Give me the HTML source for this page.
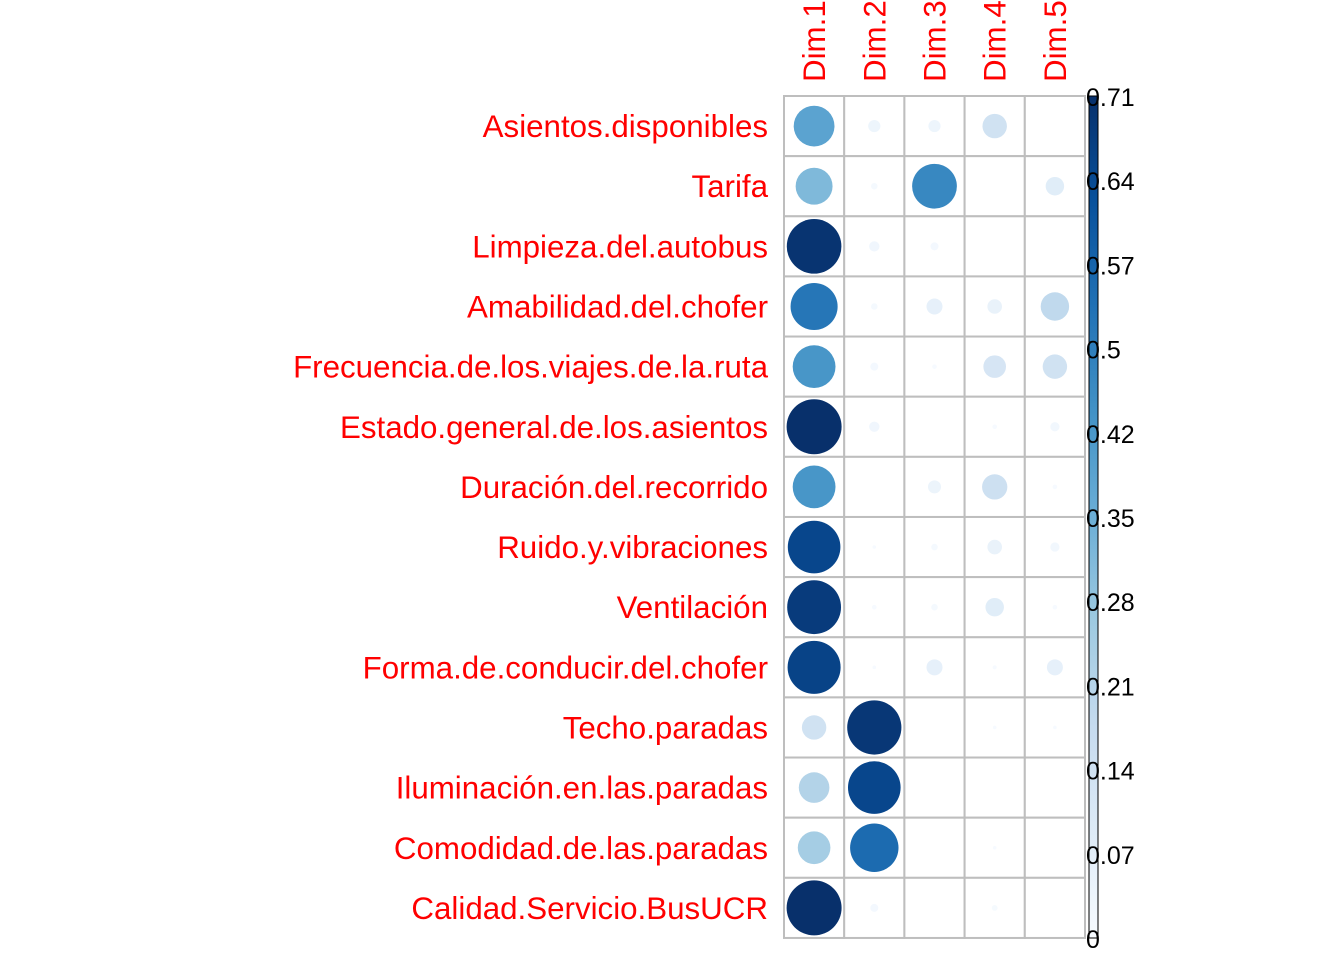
<!DOCTYPE html>
<html><head><meta charset="utf-8"><style>
body{margin:0;background:#fff;}
svg text{font-family:"Liberation Sans",sans-serif;}
</style></head><body>
<svg id="chart" width="1344" height="960" xmlns="http://www.w3.org/2000/svg">
<defs><linearGradient id="cb" x1="0" y1="1" x2="0" y2="0">
<stop offset="0" stop-color="#F7FBFF"/><stop offset="0.125" stop-color="#DEEBF7"/><stop offset="0.25" stop-color="#C6DBEF"/><stop offset="0.375" stop-color="#9ECAE1"/><stop offset="0.5" stop-color="#6BAED6"/><stop offset="0.625" stop-color="#4292C6"/><stop offset="0.75" stop-color="#2171B5"/><stop offset="0.875" stop-color="#08519C"/><stop offset="1" stop-color="#08306B"/>
</linearGradient></defs>
<g id="grid"></g>
<g id="marks"></g>
<g id="labels"></g>
<g id="legend"></g>
</svg>
<script>
const rows=["Asientos.disponibles","Tarifa","Limpieza.del.autobus","Amabilidad.del.chofer","Frecuencia.de.los.viajes.de.la.ruta","Estado.general.de.los.asientos","Duración.del.recorrido","Ruido.y.vibraciones","Ventilación","Forma.de.conducir.del.chofer","Techo.paradas","Iluminación.en.las.paradas","Comodidad.de.las.paradas","Calidad.Servicio.BusUCR"];
const cols=["Dim.1","Dim.2","Dim.3","Dim.4","Dim.5"];
const dim1=[0.39,0.32,0.70,0.52,0.43,0.71,0.43,0.65,0.68,0.66,0.14,0.22,0.25,0.71];
const dim2=[0.035,0.01,0.025,0.01,0.015,0.025,0,0.003,0.005,0.003,0.69,0.65,0.55,0.015];
const dim3=[0.035,0.47,0.015,0.06,0.005,0,0.04,0.01,0.01,0.06,0,0,0,0];
const dim4=[0.14,0,0,0.05,0.12,0.005,0.15,0.05,0.08,0.004,0.003,0,0.003,0.008];
const dim5=[0,0.08,0,0.19,0.14,0.02,0.005,0.02,0.005,0.06,0.003,0,0,0];
const tickLabels=["0","0.07","0.14","0.21","0.28","0.35","0.42","0.5","0.57","0.64","0.71"];
const series=[dim1,dim2,dim3,dim4,dim5];
const vmax=0.71;
const x0=784,y0=96,cw=60.2,ch=60.14;
const NS="http://www.w3.org/2000/svg";
const pal=["#F7FBFF","#DEEBF7","#C6DBEF","#9ECAE1","#6BAED6","#4292C6","#2171B5","#08519C","#08306B"];
function hex(h){return [1,3,5].map(i=>parseInt(h.substr(i,2),16));}
function color(v){const t=Math.max(0,Math.min(1,v/vmax))*(pal.length-1);const i=Math.min(pal.length-2,Math.floor(t));const f=t-i;const A=hex(pal[i]),B=hex(pal[i+1]);return "rgb("+A.map((c,k)=>Math.round(c+(B[k]-c)*f)).join(",")+")";}
function mk(tag,attrs,parent){const e=document.createElementNS(NS,tag);for(const k in attrs)e.setAttribute(k,attrs[k]);parent.appendChild(e);return e;}
const grid=document.getElementById('grid'),marks=document.getElementById('marks'),labels=document.getElementById('labels'),legend=document.getElementById('legend');
for(let i=0;i<rows.length;i++){
 const t=mk('text',{x:768,y:y0+ch*(i+0.5)+11,'text-anchor':'end','font-size':31.3,fill:'#FF0000'},labels);
 t.textContent=rows[i];
 
 
 for(let j=0;j<cols.length;j++){
  const r=mk('rect',{x:x0+cw*j,y:y0+ch*i,width:cw,height:ch,fill:'#fff',stroke:'#BEBEBE','stroke-width':2},grid);
  
  
  const v=series[j][i];
  if(v>0){
   const c=mk('circle',{cx:x0+cw*(j+0.5),cy:y0+ch*(i+0.5),r:27.5*Math.sqrt(v/vmax),fill:color(v)},marks);
   
   
  }
 }
}
for(let j=0;j<cols.length;j++){
 const t=mk('text',{x:0,y:0,'font-size':31.3,fill:'#FF0000',transform:`translate(${x0+cw*(j+0.5)+11},82) rotate(-90)`},labels);
 t.textContent=cols[j];
 
 
}
const by0=96,by1=938;
const bar=mk('rect',{x:1089,y:by0,width:9,height:by1-by0,fill:'url(#cb)',stroke:'#000','stroke-width':1},legend);


for(let k=0;k<tickLabels.length;k++){
 const y=by1-(by1-by0)*k/(tickLabels.length-1);
 const t=mk('text',{x:1086,y:y+10,'font-size':25,fill:'#000'},legend);
 t.textContent=tickLabels[k];
 
 
}
</script>
</body></html>
